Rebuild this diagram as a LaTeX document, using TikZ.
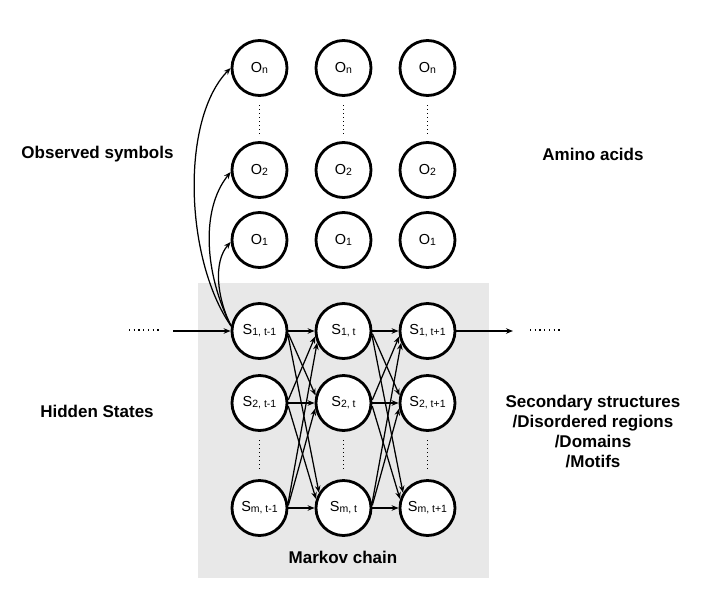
\documentclass[tikz,border=0pt]{standalone}
\usepackage{fontspec}
\setmainfont{Liberation Sans}
\usetikzlibrary{arrows.meta}
\newcommand{\sublbl}[2]{#1{\fontsize{10.5}{10.5}\selectfont\raisebox{-0.8pt}{#2}}}
\begin{document}
\begin{tikzpicture}[x=1pt,y=-1pt,
  st/.style={circle, draw, line width=2.8pt, fill=white, minimum size=55pt, inner sep=0pt, font=\fontsize{14.5}{14.5}\selectfont},
  arr/.style={-{Stealth[length=7pt,width=5.5pt]}, line width=1.25pt},
  lab/.style={font=\fontsize{17}{20.3}\selectfont\bfseries, align=center},
  vdots/.style={line width=1.3pt, dash pattern=on 1.1pt off 2.9pt},
  hdots/.style={line width=1.4pt, dash pattern=on 1.3pt off 3.4pt},
  graybox/.style={fill=black!9}]
\useasboundingbox (0,0) rectangle (714,597);
\fill[graybox] (198,283) rectangle (489,578);

% observed nodes
\foreach \c/\x in {1/259.5,2/343.5,3/427.5}{
  \node[st] (on\c) at (\x,68) {\sublbl{O}{n}};
  \node[st] (o2\c) at (\x,170) {\sublbl{O}{2}};
  \node[st] (o1\c) at (\x,240) {\sublbl{O}{1}};
  \coordinate (oda\c) at (\x,105);
  \coordinate (odb\c) at (\x,134);
  \draw[vdots] (oda\c) -- (odb\c);
}
% hidden state nodes
\foreach \c/\x/\t in {1/259.5/t-1,2/343.5/t,3/427.5/t+1}{
  \node[st] (s1\c) at (\x,331) {\sublbl{S}{1, \t}};
  \node[st] (s2\c) at (\x,403) {\sublbl{S}{2, \t}};
  \node[st] (s3\c) at (\x,508) {\sublbl{S}{m, \t}};
  \coordinate (sda\c) at (\x,440);
  \coordinate (sdb\c) at (\x,469);
  \draw[vdots] (sda\c) -- (sdb\c);
}

% transitions
\foreach \a/\b in {1/2,2/3}{
  \foreach \i in {1,2,3}{
    \draw[arr] (s\i\a.east) -- (s\i\b.west);
  }
  \foreach \i/\j/\p/\q in {1/2/-5/165, 1/3/-9/148, 2/1/6/191, 2/3/-6/162, 3/1/9/204, 3/2/5/191}{
    \draw[arr] (s\i\a.\p) -- (s\j\b.\q);
  }
}

% in / out arrows
\coordinate (lin) at (173,331);
\coordinate (rout) at (513,331);
\draw[arr] (lin) -- (s11.west);
\draw[arr] (s13.east) -- (rout);
\coordinate (lda) at (129,330);
\coordinate (ldb) at (160,330);
\draw[hdots] (lda) -- (ldb);
\coordinate (rda) at (530,330);
\coordinate (rdb) at (561,330);
\draw[hdots] (rda) -- (rdb);

% emissions
\draw[arr] (s11.170) .. controls (185,260) and (180,120) .. (on1.180);
\draw[arr] (s11.170) .. controls (205,275) and (200,210) .. (o21.184);
\draw[arr] (s11.170) .. controls (217,298) and (213,262) .. (o11.184);

% labels
\node[lab] (obs) at (97.5,154) {Observed symbols};
\node[lab] (amino) at (593,154) {Amino acids};
\node[lab] (hidden) at (97,411) {Hidden States};
\node[lab] (sec) at (593,431.5) {Secondary structures\\/Disordered regions\\/Domains\\/Motifs};
\node[lab] (markov) at (343,557) {Markov chain};
\end{tikzpicture}
\end{document}
